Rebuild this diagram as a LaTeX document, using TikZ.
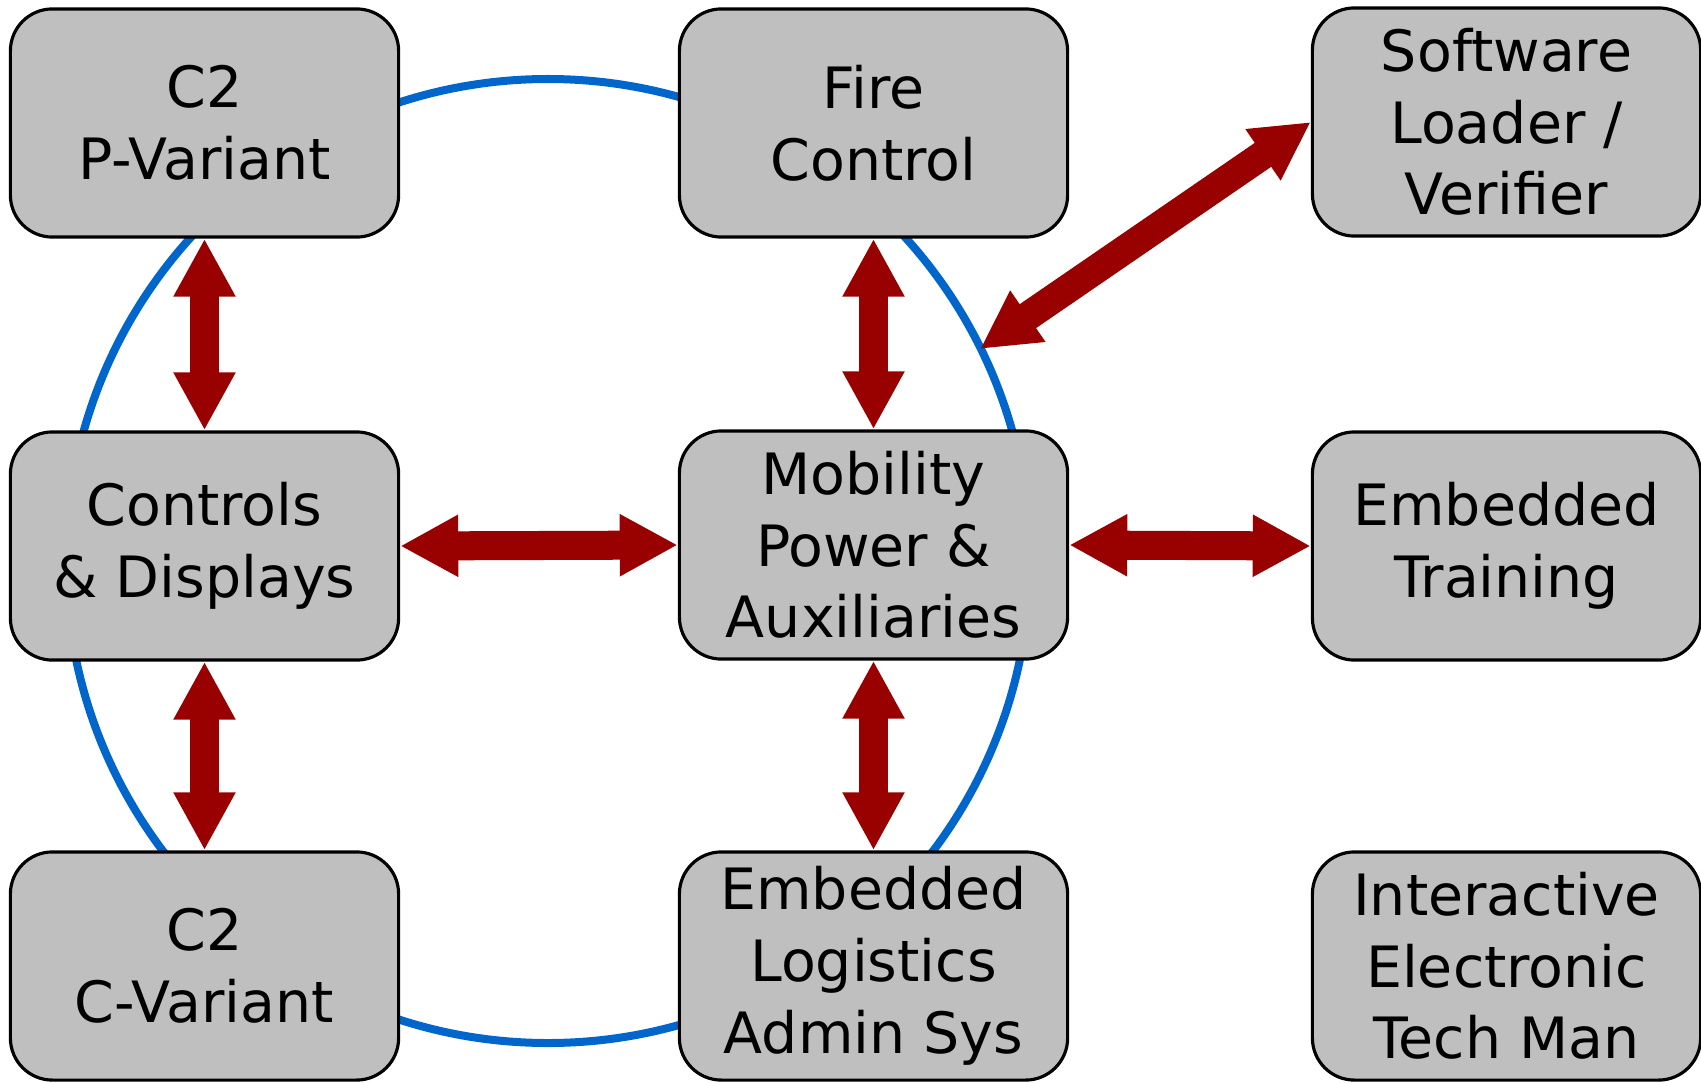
\documentclass[tikz,border=0pt]{standalone}
\usepackage{fontspec}
\setmainfont{DejaVu Sans}
\usetikzlibrary{arrows.meta}
\definecolor{ringblue}{RGB}{0,102,204}
\definecolor{linkred}{RGB}{153,0,0}
\definecolor{boxgray}{RGB}{191,191,191}
\tikzset{
  unit/.style={draw=black, line width=0.9pt, fill=boxgray, rounded corners=0.42cm,
    minimum width=3.88cm, minimum height=2.28cm, align=center, inner sep=0pt,
    font=\fontsize{16.2}{20.4}\selectfont},
  link/.style={draw=linkred, line width=0.29cm,
    {Triangle[width=0.58cm,length=0.58cm]}-{Triangle[width=0.58cm,length=0.58cm]}},
}

\begin{document}
\begin{tikzpicture}[x=0.01cm, y=-0.01cm]
			%%%%% START %%%%%
			\useasboundingbox (0, 0) rectangle (1701, 1082);
			
			\coordinate (ring) at (548, 561);
			\draw[ringblue, line width=0.08cm] (ring) circle (482);
			\coordinate (onring) at (980, 349);
			
			\node[unit] (pvar) at (204.5, 123) {C2\\P-Variant};
			\node[unit] (fire) at (873.5, 123) {Fire\\Control};
			\node[unit] (load) at (1506.5, 122) {Software\\Loader /\\Verifier};
			
			\node[unit] (ctrl) at (204.5, 546) {Controls\\\& Displays};
			\node[unit] (mob) at (873.5, 545) {Mobility\\Power \&\\Auxiliaries};
			\node[unit] (train) at (1506.5, 546) {Embedded\\Training};
			
			\node[unit] (cvar) at (204.5, 966) {C2\\C-Variant};
			\node[unit] (elas) at (873.5, 966) {Embedded\\Logistics\\Admin Sys};
			\node[unit] (ietm) at (1506.5, 966) {Interactive\\Electronic\\Tech Man};
			
			\draw[link] (pvar.south) -- (ctrl.north);
			\draw[link] (ctrl.south) -- (cvar.north);
			\draw[link] (fire.south) -- (mob.north);
			\draw[link] (mob.south) -- (elas.north);
			\draw[link] (ctrl.east) -- (mob.west);
			\draw[link] (mob.east) -- (train.west);
			\draw[link] (onring) -- (load.west);
			
			%%%%% END %%%%%
\end{tikzpicture}
\end{document}
